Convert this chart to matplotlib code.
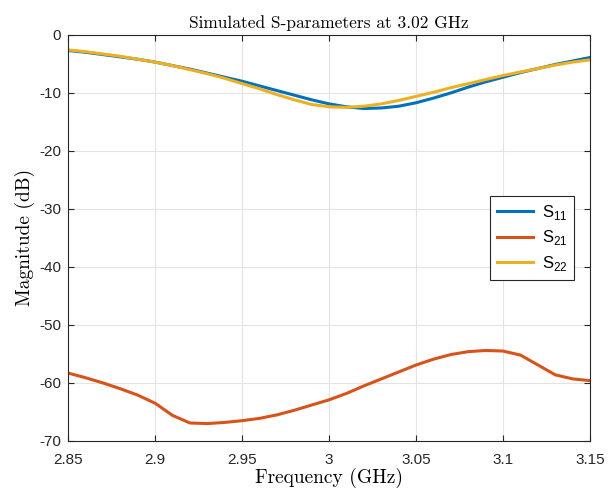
import numpy as np
import matplotlib
matplotlib.use('Agg')
import matplotlib.pyplot as plt

# frequency grid (GHz)
freq = [2.85, 2.86, 2.87, 2.88, 2.89, 2.90, 2.91, 2.92, 2.93, 2.94, 2.95,
        2.96, 2.97, 2.98, 2.99, 3.00, 3.01, 3.02, 3.03, 3.04, 3.05,
        3.06, 3.07, 3.08, 3.09, 3.10, 3.11, 3.12, 3.13, 3.14, 3.15]

s11 = [-2.7, -3.0, -3.4, -3.8, -4.2, -4.7, -5.3, -5.9, -6.6, -7.3, -8.0,
       -8.8, -9.6, -10.4, -11.2, -11.9, -12.4, -12.7, -12.6, -12.3, -11.7,
       -10.9, -10.0, -9.0, -8.1, -7.3, -6.5, -5.8, -5.1, -4.5, -3.9]

s21 = [-58.3, -59.1, -60.0, -61.0, -62.1, -63.5, -65.6, -66.9, -67.0, -66.8, -66.5,
       -66.1, -65.5, -64.7, -63.8, -62.9, -61.8, -60.5, -59.3, -58.1, -56.9,
       -55.9, -55.1, -54.6, -54.4, -54.5, -55.2, -56.9, -58.6, -59.3, -59.6]

s22 = [-2.6, -2.9, -3.3, -3.7, -4.2, -4.7, -5.3, -6.0, -6.7, -7.5, -8.4,
       -9.3, -10.3, -11.2, -12.0, -12.4, -12.5, -12.3, -11.9, -11.3, -10.6,
       -9.9, -9.1, -8.4, -7.7, -7.0, -6.4, -5.8, -5.2, -4.7, -4.3]

labels = ['S$_{\\mathregular{11}}$', 'S$_{\\mathregular{21}}$', 'S$_{\\mathregular{22}}$']
colors = ['#0072BD', '#D95319', '#EDB120']

plt.rcParams['font.family'] = 'Liberation Sans'
plt.rcParams['axes.edgecolor'] = '#262626'
plt.rcParams['xtick.color'] = '#262626'
plt.rcParams['ytick.color'] = '#262626'
plt.rcParams['axes.formatter.use_mathtext'] = False

fig = plt.figure(figsize=(6.09, 4.98), dpi=100)
ax = fig.add_axes([0.112, 0.1145, 0.857, 0.8155])

for y, lab, c in zip([s11, s21, s22], labels, colors):
    ax.plot(freq, y, color=c, lw=2.2, label=lab)

ax.set_xlim(2.85, 3.15)
ax.set_ylim(-70, 0)
ax.set_xticks([2.85, 2.9, 2.95, 3.0, 3.05, 3.1, 3.15])
ax.set_xticklabels(['2.85', '2.9', '2.95', '3', '3.05', '3.1', '3.15'])
ax.set_yticks(np.arange(-70, 1, 10))
ax.set_yticklabels([str(v) for v in range(-70, 1, 10)])
ax.tick_params(direction='in', length=4, labelsize=11, top=True, right=True)
ax.tick_params(axis='x', pad=9)
ax.tick_params(axis='y', pad=5)
ax.grid(True, color='#e3e3e3', lw=0.8)
ax.set_axisbelow(True)

serif = ['cmr10', 'DejaVu Serif']
ax.set_title('Simulated S-parameters at 3.02 GHz', fontfamily=serif,
             fontsize=12.5, pad=5)
ax.set_xlabel('Frequency (GHz)', fontfamily=serif, fontsize=14, labelpad=0)
ax.set_ylabel('Magnitude (dB)', fontfamily=serif, fontsize=14, labelpad=3)

leg = ax.legend(loc='center right', bbox_to_anchor=(0.985, 0.5), fontsize=12,
                fancybox=False, edgecolor='#262626', framealpha=1,
                handlelength=2.2, labelspacing=0.4, borderpad=0.4,
                handletextpad=0.5)
leg.get_frame().set_linewidth(0.8)

fig.savefig('out.png', dpi=100)
